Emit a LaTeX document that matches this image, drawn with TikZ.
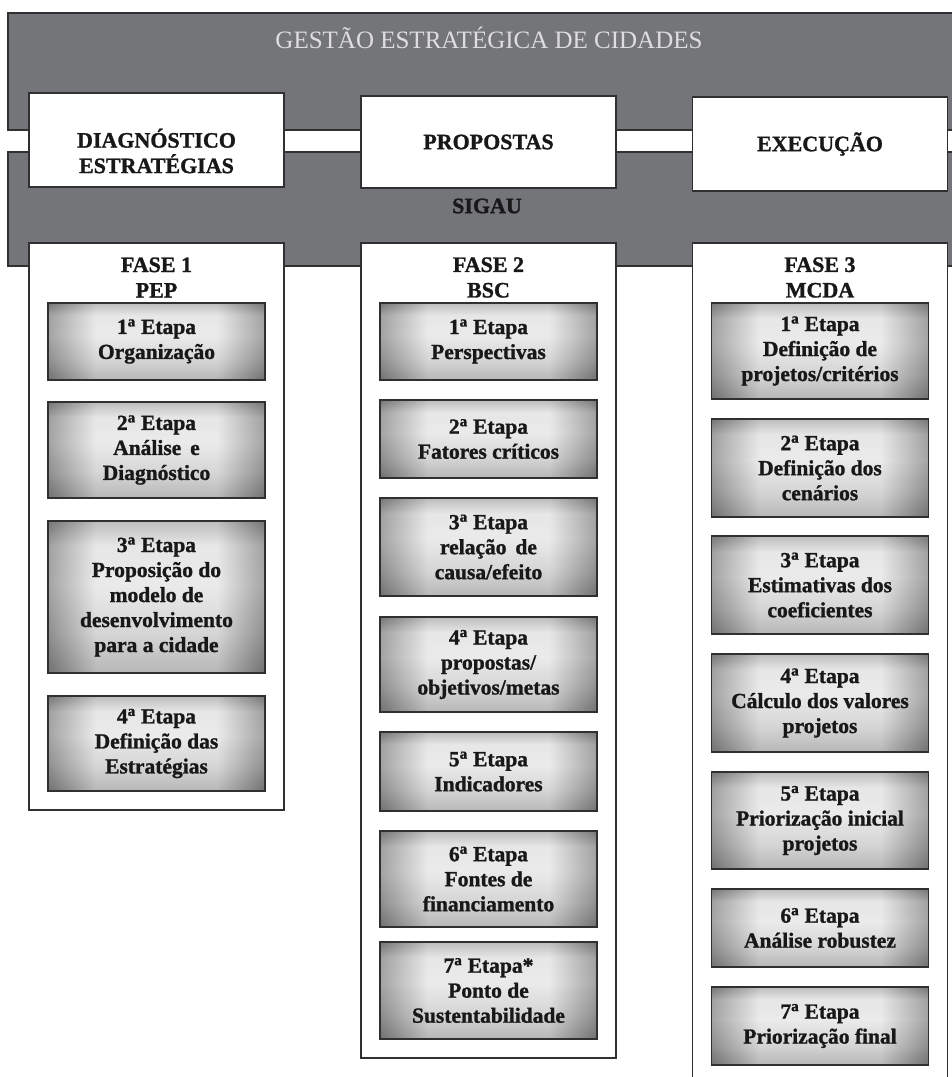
\documentclass[tikz,border=0pt]{standalone}
\usepackage{fontspec}
\setmainfont{Liberation Serif}[BoldFeatures={FakeBold=1.2}]
\definecolor{bandColor}{RGB}{116,117,121}
\definecolor{lineColor}{RGB}{48,48,50}
\definecolor{titleColor}{RGB}{222,222,222}
\definecolor{textColor}{RGB}{24,24,24}
\pgfdeclareverticalshading{etapaShade}{100bp}{color(0bp)=(gray!78); color(25bp)=(gray!78); color(38bp)=(gray!45); color(54bp)=(gray!22); color(67bp)=(gray!26); color(75bp)=(gray!72); color(100bp)=(gray!72)}
\pgfdeclarehorizontalshading{etapaEdge}{100bp}{color(0bp)=(black); color(25bp)=(black); color(36bp)=(white); color(64bp)=(white); color(75bp)=(black); color(100bp)=(black)}
\tikzstyle{page} = [x = 1pt, y = -1pt]
\tikzstyle{band} = [fill=bandColor, draw=lineColor, line width=1.5pt]
\tikzstyle{whiteBox} = [fill=white, draw=lineColor, line width=1.6pt]
\tikzstyle{headText} = [font=\fontsize{22}{25.5}\selectfont\bfseries, text=textColor, align=center]
\tikzstyle{etapaStyle} = [shade, shading=etapaShade, postaction={shade, shading=etapaEdge, fill opacity=.28}, postaction={draw=lineColor, line width=1.8pt}]
\tikzstyle{etapaText} = [midway, font=\fontsize{21.5}{25}\selectfont\bfseries, text=textColor, align=center]
\newcommand{\nEtapa}[1]{#1\textsuperscript{a} Etapa}
\newcommand{\etapa}[5]{\path [etapaStyle] (#2 - 108.5, #3) rectangle (#2 + 108.5, #4) node (#1) [etapaText] {#5};}
\newcommand{\headBox}[5]{\filldraw [whiteBox] (#2 - 127.5, #3) rectangle (#2 + 127.5, #4) node (#1) [headText, midway] {#5};}
\newcommand{\faseBox}[4]{
  \filldraw [whiteBox] (#2 - 127.5, 243) rectangle (#2 + 127.5, #3);
  \node (#1) [headText] at (#2, 277.5) {#4};
}

\begin{document}
\begin{tikzpicture}[page]
  \useasboundingbox (0,0) rectangle (952,1077);
  % bands
  \filldraw [band] (8,13) rectangle (970,130);
  \filldraw [band] (8,152) rectangle (970,266);
  \node (gestao) [font=\fontsize{25}{28}\selectfont, text=titleColor] at (489,38) {GESTÃO ESTRATÉGICA DE CIDADES};
  \node (sigau) [headText] at (487,206) {SIGAU};

  \filldraw [whiteBox] (29,93) rectangle (284,187) node (diag) [headText, midway, yshift=-11pt] {DIAGNÓSTICO\\ESTRATÉGIAS};
  \headBox{propostas}{488.5}{96}{188}{PROPOSTAS}
  \headBox{execucao}{820}{97}{191}{EXECUÇÃO}

  % fase 1
  \faseBox{fase1}{156.5}{810}{FASE 1\\PEP}
  \etapa{f1e1}{156.5}{303}{380}{\nEtapa{1}\\Organização}
  \etapa{f1e2}{156.5}{402}{498}{\nEtapa{2}\\Análise\, e\\Diagnóstico}
  \etapa{f1e3}{156.5}{521}{673}{\nEtapa{3}\\Proposição do\\modelo de\\desenvolvimento\\para a cidade}
  \etapa{f1e4}{156.5}{696}{791}{\nEtapa{4}\\Definição das\\Estratégias}

  % fase 2
  \faseBox{fase2}{488.5}{1058}{FASE 2\\BSC}
  \etapa{f2e1}{488.5}{303}{380}{\nEtapa{1}\\Perspectivas}
  \etapa{f2e2}{488.5}{400}{478}{\nEtapa{2}\\Fatores críticos}
  \etapa{f2e3}{488.5}{498}{596}{\nEtapa{3}\\relação\, de\\causa/efeito}
  \etapa{f2e4}{488.5}{617}{712}{\nEtapa{4}\\propostas/\\objetivos/metas}
  \etapa{f2e5}{488.5}{732}{811}{\nEtapa{5}\\Indicadores}
  \etapa{f2e6}{488.5}{831}{927}{\nEtapa{6}\\Fontes de\\financiamento}
  \etapa{f2e7}{488.5}{942}{1039}{\nEtapa{7}*\\Ponto de\\Sustentabilidade}

  % fase 3
  \faseBox{fase3}{820}{1100}{FASE 3\\MCDA}
  \etapa{f3e1}{820}{303}{399}{\nEtapa{1}\\Definição de\\projetos/critérios}
  \etapa{f3e2}{820}{419}{517}{\nEtapa{2}\\Definição dos\\cenários}
  \etapa{f3e3}{820}{536}{634}{\nEtapa{3}\\Estimativas dos\\coeficientes}
  \etapa{f3e4}{820}{654}{752}{\nEtapa{4}\\Cálculo dos valores\\projetos}
  \etapa{f3e5}{820}{772}{869}{\nEtapa{5}\\Priorização inicial\\projetos}
  \etapa{f3e6}{820}{889}{967}{\nEtapa{6}\\Análise robustez}
  \etapa{f3e7}{820}{987}{1065}{\nEtapa{7}\\Priorização final}
\end{tikzpicture}
\end{document}
